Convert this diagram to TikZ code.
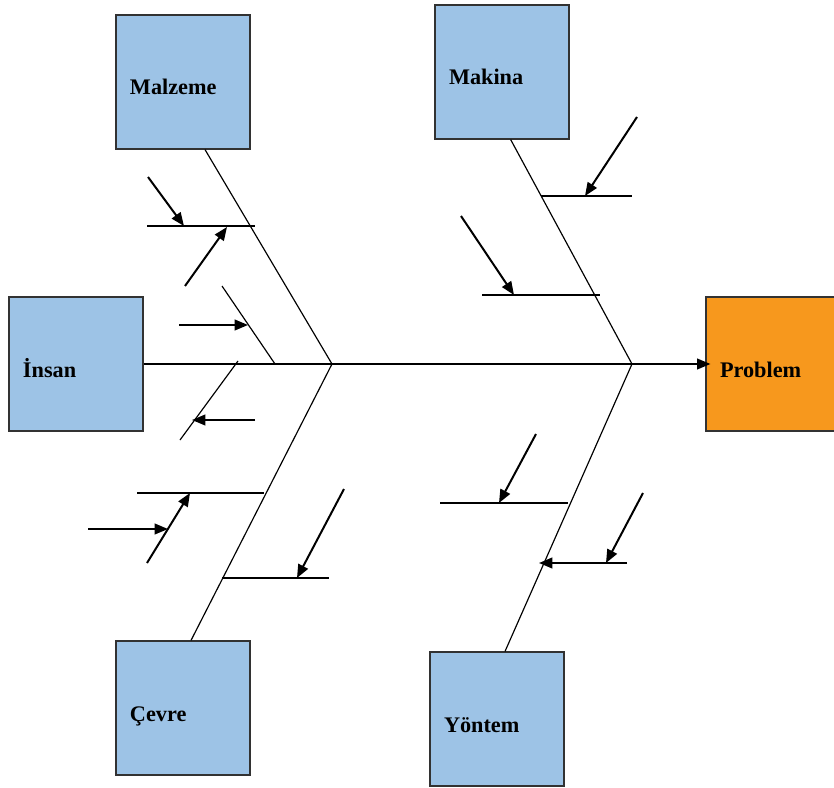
\documentclass[tikz,border=0pt]{standalone}
\usepackage{fontspec}
\setmainfont{Liberation Serif}
\usetikzlibrary{arrows.meta}

\definecolor{boxblue}{RGB}{157,195,230}
\definecolor{boxline}{RGB}{50,50,50}
\definecolor{probleminkorange}{RGB}{247,152,29}

\tikzset{
  catbox/.style={draw=boxline, fill=boxblue, line width=1pt, inner sep=0pt,
    minimum width=4.02cm, minimum height=4.02cm, text width=3.18cm, align=left,
    text height=7.8mm, text depth=0pt,
    font=\bfseries\fontsize{19}{23}\selectfont},
  bone/.style={line width=1pt},
  spine/.style={line width=1.6pt, -{Triangle[length=4mm,width=3.2mm]}},
  causearrow/.style={line width=1.7pt, -{Triangle[length=4mm,width=3.2mm]}}
}

\begin{document}
\begin{tikzpicture}[x=0.03cm, y=-0.03cm]

  \useasboundingbox (0,0) rectangle (834,788);

  % category boxes
  \node [catbox] (malzeme) at (183,82) {Malzeme};
  \node [catbox] (makina) at (502,72) {Makina};
  \node [catbox] (insan) at (76,364) {İnsan};
  \node [catbox] (cevre) at (183,708) {Çevre};
  \node [catbox] (yontem) at (497,719) {Yöntem};

  % problem box (cut by the right edge)
  \node [catbox, fill=probleminkorange] (problem) at (773,364) {Problem};

  % joints on the spine
  \coordinate (jl) at (332,364);
  \coordinate (jr) at (632,364);

  % spine
  \draw [spine] (insan.east) -- ([xshift=1.5mm]problem.west);

  % main bones
  \draw [bone] ([xshift=6.6mm]malzeme.south) -- (jl);
  \draw [bone] ([xshift=2.6mm]makina.south) -- (jr);
  \draw [bone] ([xshift=2.4mm]cevre.north) -- (jl);
  \draw [bone] ([xshift=2.4mm]yontem.north) -- (jr);

  % Malzeme causes
  \coordinate (ma1) at (147,226); \coordinate (ma2) at (255,226);
  \coordinate (mb1) at (148,177); \coordinate (mb2) at (184,226);
  \coordinate (mc1) at (185,286); \coordinate (mc2) at (227,227);
  \draw [bone] (ma1) -- (ma2);
  \draw [causearrow] (mb1) -- (mb2);
  \draw [causearrow] (mc1) -- (mc2);

  % Insan causes
  \coordinate (ia1) at (222,286); \coordinate (ia2) at (275,364);
  \coordinate (ib1) at (179,325); \coordinate (ib2) at (248,325);
  \coordinate (ic1) at (238,361); \coordinate (ic2) at (180,440);
  \coordinate (id1) at (255,420); \coordinate (id2) at (192,420);
  \draw [bone] (ia1) -- (ia2);
  \draw [causearrow] (ib1) -- (ib2);
  \draw [bone] (ic1) -- (ic2);
  \draw [causearrow] (id1) -- (id2);

  % Cevre causes
  \coordinate (ca1) at (137,493); \coordinate (ca2) at (264,493);
  \coordinate (cb1) at (147,563); \coordinate (cb2) at (190,493);
  \coordinate (cc1) at (88,529);  \coordinate (cc2) at (168,529);
  \coordinate (cd1) at (222,578); \coordinate (cd2) at (329,578);
  \coordinate (ce1) at (344,489); \coordinate (ce2) at (297,578);
  \draw [bone] (ca1) -- (ca2);
  \draw [causearrow] (cb1) -- (cb2);
  \draw [causearrow] (cc1) -- (cc2);
  \draw [bone] (cd1) -- (cd2);
  \draw [causearrow] (ce1) -- (ce2);

  % Makina causes
  \coordinate (ka1) at (541,196); \coordinate (ka2) at (632,196);
  \coordinate (kb1) at (637,117); \coordinate (kb2) at (585,196);
  \coordinate (kc1) at (482,295); \coordinate (kc2) at (600,295);
  \coordinate (kd1) at (461,216); \coordinate (kd2) at (514,295);
  \draw [bone] (ka1) -- (ka2);
  \draw [causearrow] (kb1) -- (kb2);
  \draw [bone] (kc1) -- (kc2);
  \draw [causearrow] (kd1) -- (kd2);

  % Yontem causes
  \coordinate (ya1) at (440,503); \coordinate (ya2) at (568,503);
  \coordinate (yb1) at (536,434); \coordinate (yb2) at (499,503);
  \coordinate (yc1) at (627,563); \coordinate (yc2) at (539,563);
  \coordinate (yd1) at (643,493); \coordinate (yd2) at (606,563);
  \draw [bone] (ya1) -- (ya2);
  \draw [causearrow] (yb1) -- (yb2);
  \draw [causearrow] (yc1) -- (yc2);
  \draw [causearrow] (yd1) -- (yd2);

\end{tikzpicture}
\end{document}
